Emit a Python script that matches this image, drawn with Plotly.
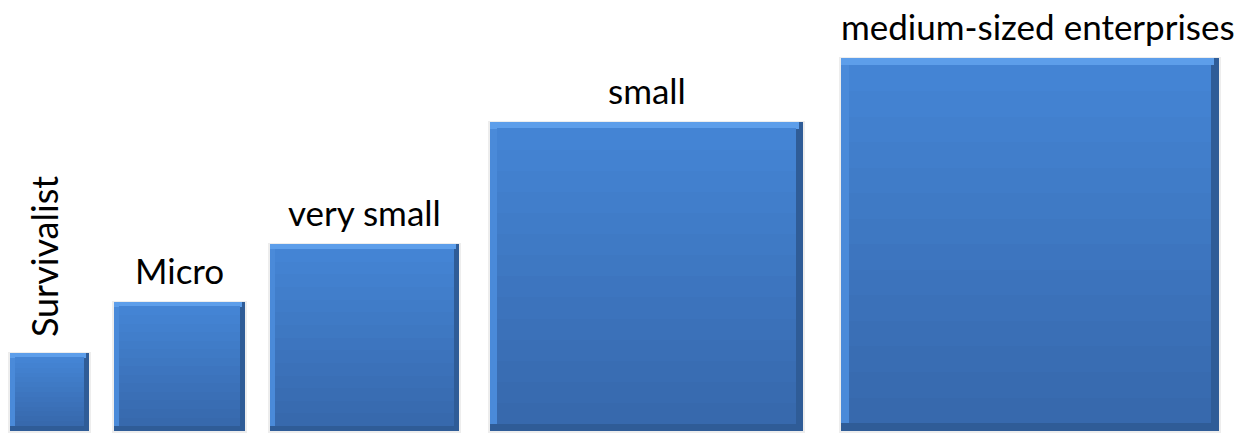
import plotly.graph_objects as go

# Data
categories = ["Survivalist", "Micro", "very small", "small", "medium-sized enterprises"]
sizes = [79, 131, 189, 313, 378]          # side length of each square
gaps = [10, 25, 25, 31, 38]               # spacing before each square (layout)

# positions
lefts = []
cur = 0
for g, s in zip(gaps, sizes):
    cur += g
    lefts.append(cur)
    cur += s
centers = [l + s / 2 for l, s in zip(lefts, sizes)]

def bevel(s):
    return max(5, round(0.022 * s))

fig = go.Figure()

def add_rect(x0s, x1s, y0s, y1s, color):
    fig.add_trace(go.Bar(
        x=[(a + b) / 2 for a, b in zip(x0s, x1s)],
        width=[b - a for a, b in zip(x0s, x1s)],
        base=y0s,
        y=[b - a for a, b in zip(y0s, y1s)],
        marker=dict(color=color, line=dict(width=0)),
        hoverinfo="skip", showlegend=False))

bs = [bevel(s) for s in sizes]
rights = [l + s for l, s in zip(lefts, sizes)]

# faint shadow
add_rect([l - 2 for l in lefts], [r + 2 for r in rights], [-2] * 5, [s + 1 for s in sizes], "rgba(0,0,0,0.07)")
# outer dark (right/bottom bevel)
add_rect(lefts, rights, [0] * 5, sizes, "#2f5c97")
# left bevel
add_rect(lefts, [r - b for r, b in zip(rights, bs)], bs, sizes, "#4a8ad9")
# top bevel
add_rect(lefts, [r - b * 0.6 for r, b in zip(rights, bs)], [s - b for s, b in zip(sizes, bs)], sizes, "#5d9eea")

# interior gradient
N = 14
top_c = (0x45, 0x85, 0xd5)
bot_c = (0x36, 0x68, 0xac)
for i in range(N):
    t0 = i / N
    t1 = (i + 1) / N
    f = (i + 0.5) / N
    c = tuple(round(bot_c[k] + (top_c[k] - bot_c[k]) * f) for k in range(3))
    y0s = [b + (s - 2 * b) * t0 for s, b in zip(sizes, bs)]
    y1s = [b + (s - 2 * b) * t1 + 0.5 for s, b in zip(sizes, bs)]
    add_rect([l + b for l, b in zip(lefts, bs)], [r - b for r, b in zip(rights, bs)], y0s, y1s,
             "rgb(%d,%d,%d)" % c)

# labels
FONT = dict(family="Lato", size=35, color="#000")
for cat, cx, s in zip(categories, centers, sizes):
    if cat == "Survivalist":
        fig.add_annotation(x=cx - 6, y=s + 14, text=cat, textangle=-90, showarrow=False,
                           xanchor="center", yanchor="bottom", font=dict(family="Lato", size=36, color="#000"))
    else:
        fig.add_annotation(x=cx + (8 if s > 350 else 0), y=s + 9, text=cat, showarrow=False,
                           xanchor="center", yanchor="bottom", font=FONT)

k = 0.988  # px per unit vertically
fig.update_layout(
    width=1257, height=434, margin=dict(l=0, r=0, t=0, b=0),
    barmode="overlay", bargap=0,
    paper_bgcolor="white", plot_bgcolor="white",
    xaxis=dict(range=[0, 1257], visible=False, fixedrange=True),
    yaxis=dict(range=[-3 / k, 431 / k], visible=False, fixedrange=True),
)
fig.write_html("out.html")
